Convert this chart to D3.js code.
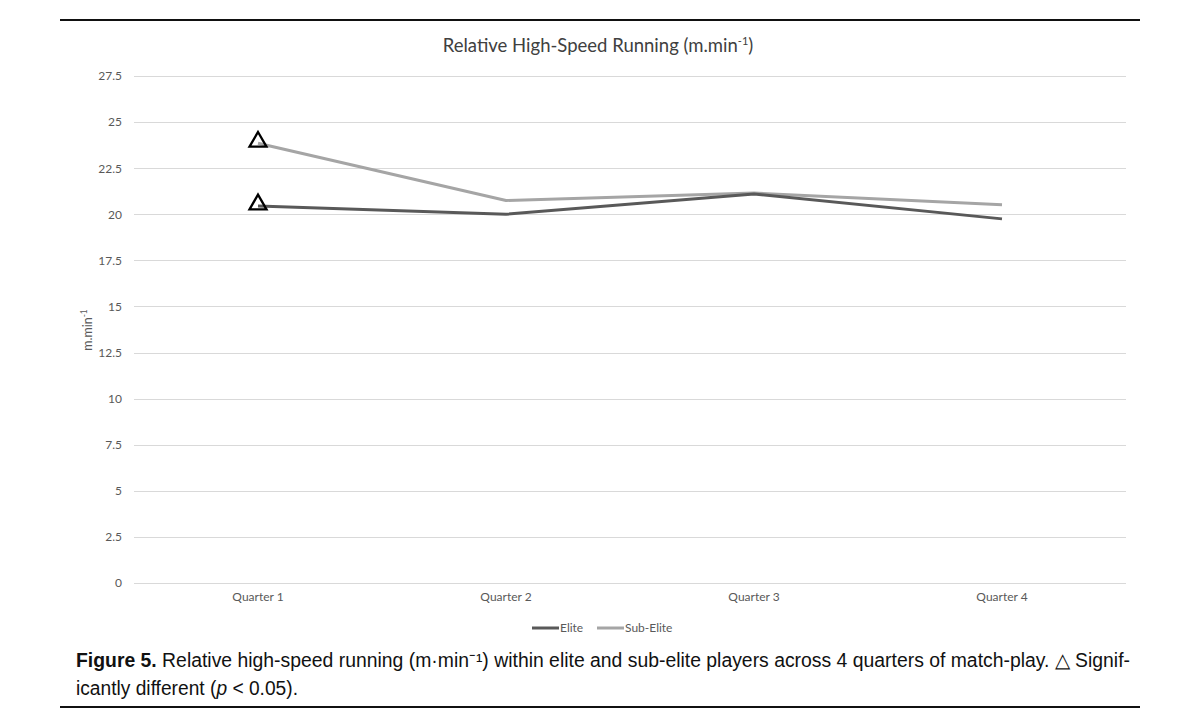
<!DOCTYPE html>
<html>
<head>
<meta charset="utf-8">
<script src="https://cdn.jsdelivr.net/npm/d3@7"></script>
<style>
  html, body { margin: 0; padding: 0; background: #fff; }
  svg { display: block; }
</style>
</head>
<body>
<script>
// ---- Data ----
const quarters = ["Quarter 1", "Quarter 2", "Quarter 3", "Quarter 4"];
const elite = [20.45, 20.0, 21.1, 19.75];
const subElite = [23.85, 20.75, 21.15, 20.52];
const yTicks = [0, 2.5, 5, 7.5, 10, 12.5, 15, 17.5, 20, 22.5, 25, 27.5];
const significant = [0]; // indices of quarters marked with △
const seriesNames = ["Elite", "Sub-Elite"];

const W = 1200, H = 726;
const svg = d3.select("body").append("svg").attr("width", W).attr("height", H);

const chartFont = "Lato, 'Open Sans', sans-serif";
const capFont = "'Liberation Sans', Arial, sans-serif";

// rules
svg.append("line").attr("x1", 60).attr("x2", 1140).attr("y1", 20).attr("y2", 20)
  .attr("stroke", "#111").attr("stroke-width", 2);
svg.append("line").attr("x1", 60).attr("x2", 1140).attr("y1", 707).attr("y2", 707)
  .attr("stroke", "#111").attr("stroke-width", 2);

const x = d3.scaleBand().domain(quarters).range([134, 1126]);
const y = d3.scaleLinear().domain([0, 27.5]).range([583, 76]);
const cx = q => x(q) + x.bandwidth() / 2;

// grid
svg.append("g").selectAll("line").data(yTicks).join("line")
  .attr("x1", 134).attr("x2", 1126)
  .attr("y1", d => Math.round(y(d)) + 0.5).attr("y2", d => Math.round(y(d)) + 0.5)
  .attr("stroke", "#d9d9d9").attr("stroke-width", 1);

// y axis labels
const yAxis = d3.axisLeft(y).tickValues(yTicks).tickSize(0).tickPadding(0)
  .tickFormat(d => String(d));
const gy = svg.append("g").attr("transform", "translate(122,0)").call(yAxis);
gy.select(".domain").remove();
gy.selectAll("text").attr("font-family", chartFont).attr("font-size", 12).attr("fill", "#595959");

// x axis labels
const xAxis = d3.axisBottom(x).tickSize(0).tickPadding(0);
const gx = svg.append("g").attr("transform", "translate(0,592)").call(xAxis);
gx.select(".domain").remove();
gx.selectAll("text").attr("font-family", chartFont).attr("font-size", 12).attr("fill", "#595959");

// lines
const line = d3.line().x((d, i) => cx(quarters[i])).y(d => y(d));
svg.append("path").datum(subElite).attr("d", line).attr("fill", "none")
  .attr("stroke", "#a5a5a5").attr("stroke-width", 3).attr("stroke-linejoin", "round");
svg.append("path").datum(elite).attr("d", line).attr("fill", "none")
  .attr("stroke", "#595959").attr("stroke-width", 3).attr("stroke-linejoin", "round");

// significance triangles
const tri = d3.symbol().type(d3.symbolTriangle).size(125);
[elite, subElite].forEach(s => {
  significant.forEach(i => {
    svg.append("path").attr("d", tri())
      .attr("transform", `translate(${cx(quarters[i])},${y(s[i]) - 1.5})`)
      .attr("fill", "none").attr("stroke", "#000").attr("stroke-width", 2.3);
  });
});

// title
const t = svg.append("text").attr("x", 598).attr("y", 52).attr("text-anchor", "middle")
  .attr("font-family", chartFont).attr("font-size", 18.5).attr("fill", "#404040");
t.append("tspan").text("Relative High-Speed Running (m.min");
t.append("tspan").attr("dy", -7).attr("font-size", 11).text("-1");
t.append("tspan").attr("dy", 7).text(")");

// y label
const yl = svg.append("text").attr("transform", "translate(92,330) rotate(-90)")
  .attr("text-anchor", "middle").attr("font-family", chartFont).attr("font-size", 12.5).attr("fill", "#595959");
yl.append("tspan").text("m.min");
yl.append("tspan").attr("dy", -5).attr("font-size", 8.5).text("-1");

// legend
const legend = [
  { name: seriesNames[0], color: "#595959", x0: 532 },
  { name: seriesNames[1], color: "#a5a5a5", x0: 597 }
];
legend.forEach(l => {
  svg.append("line").attr("x1", l.x0).attr("x2", l.x0 + 27).attr("y1", 628).attr("y2", 628)
    .attr("stroke", l.color).attr("stroke-width", 3);
  svg.append("text").attr("x", l.x0 + 28).attr("y", 632).attr("font-family", chartFont)
    .attr("font-size", 12).attr("fill", "#595959").text(l.name);
});

// caption
const c1 = svg.append("text").attr("x", 76).attr("y", 667).attr("font-family", capFont)
  .attr("font-size", 19.5).attr("fill", "#111")
  .attr("textLength", 1054).attr("lengthAdjust", "spacingAndGlyphs");
c1.append("tspan").attr("font-weight", "bold").text("Figure 5.");
c1.append("tspan").text(" Relative high-speed running (m·min\u207B\u00B9) within elite and sub-elite players across 4 quarters of match-play. \u25B3 Signif-");

const c2 = svg.append("text").attr("x", 76).attr("y", 695).attr("font-family", capFont)
  .attr("font-size", 19.5).attr("fill", "#111")
  .attr("textLength", 222).attr("lengthAdjust", "spacingAndGlyphs");
c2.append("tspan").text("icantly different (");
c2.append("tspan").attr("font-style", "italic").text("p");
c2.append("tspan").text(" < 0.05).");
</script>
</body>
</html>
